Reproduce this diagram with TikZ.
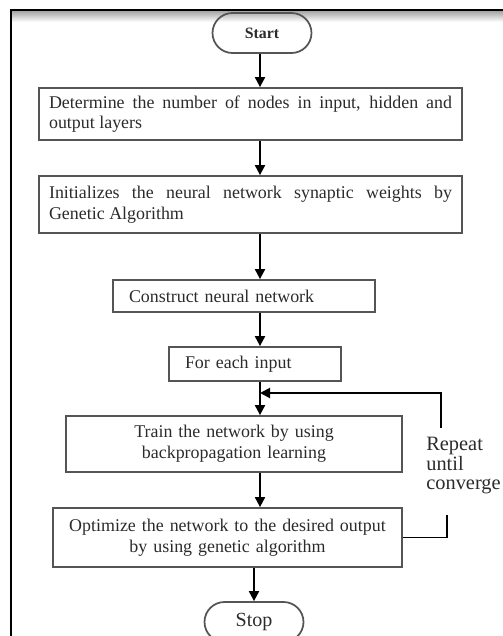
\documentclass[tikz,border=0pt]{standalone}
\usepackage{fontspec}
\setmainfont{Liberation Serif}
\usetikzlibrary{arrows.meta,positioning,shapes.misc}
\definecolor{boxline}{HTML}{555555}
\definecolor{txt}{HTML}{2B2B2B}
\newcommand\nohyph{\hyphenpenalty=10000\relax\tolerance=9999\relax}

\begin{document}
\begin{tikzpicture}[x=0.02cm,y=-0.02cm,
  proc/.style={draw=boxline,line width=1pt,text=txt,font=\fontsize{10.2}{11.8}\selectfont\nohyph,inner xsep=0.2cm,inner ysep=0pt},
  term/.style={draw=boxline,line width=1pt,rounded rectangle,text=txt,minimum width=1.98cm,minimum height=0.8cm,inner sep=0pt},
  flow/.style={line width=1.1pt,-{Triangle[length=0.2cm,width=0.2cm]}}]
  \useasboundingbox (0,0) rectangle (503,636);
  \clip (0,0) rectangle (503,636);

  % Frame
  \shade[top color=black!35,bottom color=white] (12,11) rectangle (503,22);
  \draw[line width=1.7pt] (11,636) -- (11,10) -- (503,10);

  % Steps
  \node[term,font=\fontsize{9}{11}\selectfont\bfseries] (start) at (262,33) {Start};
  \node[proc,text width=8.06cm,align=justify,minimum height=1.04cm] (layers) at (250.5,114)
    {Determine the number of nodes in input, hidden and output layers};
  \node[proc,text width=8.06cm,align=justify,minimum height=1.14cm] (init) at (250.5,204.5)
    {Initializes the neural network synaptic weights by Genetic Algorithm};
  \node[proc,text width=4.6cm,inner xsep=0.32cm,align=left,minimum height=0.64cm] (build) at (244,296)
    {Construct neural network};
  \node[proc,text width=2.8cm,inner xsep=0.32cm,align=left,minimum height=0.68cm] (each) at (255,364)
    {For each input};
  \node[proc,text width=6.32cm,align=center,minimum height=1.12cm] (train) at (234,444)
    {Train the network by using\\backpropagation learning};
  \node[proc,text width=6.58cm,align=center,minimum height=1.18cm] (optim) at (227.5,537.5)
    {Optimize the network to the desired output\\by using genetic algorithm};
  \node[term,font=\fontsize{11.4}{13}\selectfont] (stop) at (254,622) {Stop};

  % Main line
  \coordinate (spine) at (260,0);
  \draw[flow] (start.south -| spine) -- (layers.north -| spine);
  \draw[flow] (layers.south -| spine) -- (init.north -| spine);
  \draw[flow] (init.south -| spine) -- (build.north -| spine);
  \draw[flow] (build.south -| spine) -- (each.north -| spine);
  \draw[flow] (each.south -| spine) -- (train.north -| spine);
  \draw[flow] (train.south -| spine) -- (optim.north -| spine);
  \draw[flow] (optim.south -| stop) -- (stop.north);

  % Loop back
  \node[anchor=north west,align=left,inner sep=0pt,text=txt,font=\fontsize{11.6}{10.5}\selectfont] (repeat) at (426,437)
    {Repeat\\until\\converge};
  \coordinate (loopA) at (447,515);
  \coordinate (loopB) at (441,428);
  \coordinate (join) at (260,393);
  \draw[line width=1.1pt] (optim.east) -| (loopA);
  \draw[flow] (loopB) |- (join);
\end{tikzpicture}
\end{document}
